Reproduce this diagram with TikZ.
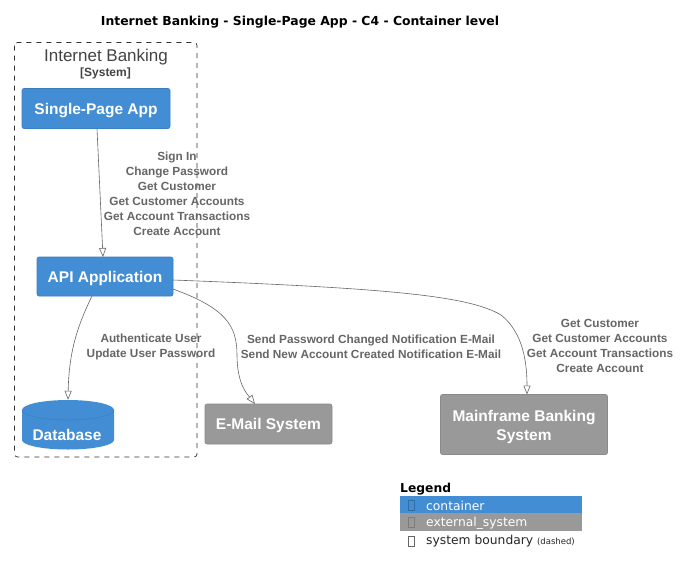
\documentclass[tikz,border=0pt]{standalone}
\usepackage{fontspec}
\setmainfont{Liberation Sans}
\newfontfamily\legfont{DejaVu Sans}
\usetikzlibrary{arrows.meta}
\definecolor{c4blue}{HTML}{438DD5}
\definecolor{c4blueline}{HTML}{3C7FC0}
\definecolor{c4gray}{HTML}{999999}
\definecolor{c4grayline}{HTML}{8A8A8A}
\definecolor{lblgray}{HTML}{666666}
\definecolor{bndtext}{HTML}{444444}
\tikzset{
  boxtext/.style={text=white, font=\bfseries\fontsize{15.5}{19.7}\selectfont, inner sep=0pt, align=center},
  container/.style={fill=c4blue, draw=c4blueline, line width=0.6pt, rounded corners=2pt, boxtext, text height=11pt, text depth=0pt},
  extsys/.style={fill=c4gray, draw=c4grayline, line width=0.6pt, rounded corners=2pt, boxtext, text height=11pt, text depth=0pt},
  rel/.style={draw=lblgray, line width=0.6pt, -{Triangle[open, length=9pt, width=7pt]}},
  rellabel/.style={text=lblgray, font=\bfseries\fontsize{11.8}{15}\selectfont, align=center, inner sep=0pt},
  legtext/.style={font=\legfont\fontsize{12.3}{14}\selectfont, anchor=west, inner sep=0pt},
  glyphbox/.style={draw, line width=0.4pt, minimum width=6pt, minimum height=10pt, inner sep=0pt},
}
\begin{document}
\begin{tikzpicture}[x=1pt, y=-1pt]
\useasboundingbox (0,0) rectangle (681,574);
\fill[white] (0,0) rectangle (681,574);

% title
\node[font=\legfont\bfseries\fontsize{12.4}{14}\selectfont, inner sep=0pt, text height=9pt, text depth=0pt] (title) at (300,20.5) {Internet Banking - Single-Page App - C4 - Container level};

% system boundary
\draw[dashed, dash pattern=on 5pt off 5pt, line width=0.7pt, rounded corners=3pt, color=black!80] (14.5,42.5) rectangle (197,457);
\node[text=bndtext, font=\fontsize{17}{19}\selectfont, inner sep=0pt, text height=12.2pt, text depth=0pt] (bndtitle) at (106,55.5) {Internet Banking};
\node[text=bndtext, font=\bfseries\fontsize{12}{13}\selectfont, inner sep=0pt] (bndtype) at (105.5,73) {[System]};

% containers
\node[container, minimum width=148pt, minimum height=40pt] (spa) at (96,108.5) {Single-Page App};
\node[container, minimum width=136pt, minimum height=39pt] (api) at (105,276.5) {API Application};

% database cylinder
\node[minimum width=92pt, minimum height=49pt, inner sep=0pt] (db) at (68,424.5) {};
\fill[c4blue] (22,410) -- (22,440) arc[start angle=180, end angle=360, x radius=46, y radius=-9.5] -- (114,410) arc[start angle=0, end angle=180, x radius=46, y radius=-10] -- cycle;
\draw[c4blueline, line width=0.5pt] (22,410) arc[start angle=180, end angle=360, x radius=46, y radius=-10];
\node[boxtext, text height=11pt, text depth=0pt] (dbtext) at (67,435) {Database};

% external systems
\node[extsys, minimum width=127pt, minimum height=40pt] (mail) at (268.5,424) {E-Mail System};
\node[fill=c4gray, draw=c4grayline, line width=0.6pt, rounded corners=2pt, minimum width=167pt, minimum height=60pt, inner sep=0pt] (mainframe) at (524,424.5) {};
\node[boxtext] (mftext) at (524,427) {Mainframe Banking\\System};

% relations
\coordinate (spaout) at (97,128.5);
\coordinate (apiin) at (103,257);
\draw[rel] (spaout) -- (apiin);

\coordinate (apidb) at (92,296);
\draw[rel] (apidb) .. controls (78,325) and (69,350) .. (db.north);

\coordinate (apimail) at (173,289);
\coordinate (mailin) at (255,404);
\draw[rel] (apimail) .. controls (225,308) and (237,325) .. (237,355) .. controls (237,385) and (248,395) .. (mailin);

\coordinate (apimf) at (173,280);
\coordinate (mfin) at (527,394.5);
\draw[rel] (apimf) .. controls (380,288) and (468,295) .. (501,315) .. controls (524,333) and (527,365) .. (mfin);

% relation labels
\node[rellabel] (lbl1) at (177,194) {Sign In\\Change Password\\Get Customer\\Get Customer Accounts\\Get Account Transactions\\Create Account};
\node[rellabel] (lbl2) at (151,346.5) {Authenticate User\\Update User Password};
\node[rellabel] (lbl3) at (371,346.5) {Send Password Changed Notification E-Mail\\Send New Account Created Notification E-Mail};
\node[rellabel] (lbl4) at (600,346) {Get Customer\\Get Customer Accounts\\Get Account Transactions\\Create Account};

% legend
\node[font=\legfont\bfseries\fontsize{12.3}{14}\selectfont, anchor=west, inner sep=0pt, text height=9pt, text depth=0pt] (legtitle) at (400,488) {Legend};
\fill[c4blue] (399.5,496) rectangle (581.5,513);
\fill[c4gray] (399.5,513) rectangle (581.5,531);
\node[glyphbox, draw=c4blueline!85!black] (g1) at (411.5,505) {};
\node[glyphbox, draw=c4grayline!90!black] (g2) at (411.5,522.5) {};
\node[glyphbox, draw=black!60] (g3) at (411.5,541) {};
\node[legtext, text=white] (leg1) at (426,505.5) {container};
\node[legtext, text=white] (leg2) at (426,523) {external\_system};
\node[legtext, text=black!85] (leg3) at (426,541.5) {system boundary \fontsize{8.5}{9}\selectfont(dashed)};
\end{tikzpicture}
\end{document}
